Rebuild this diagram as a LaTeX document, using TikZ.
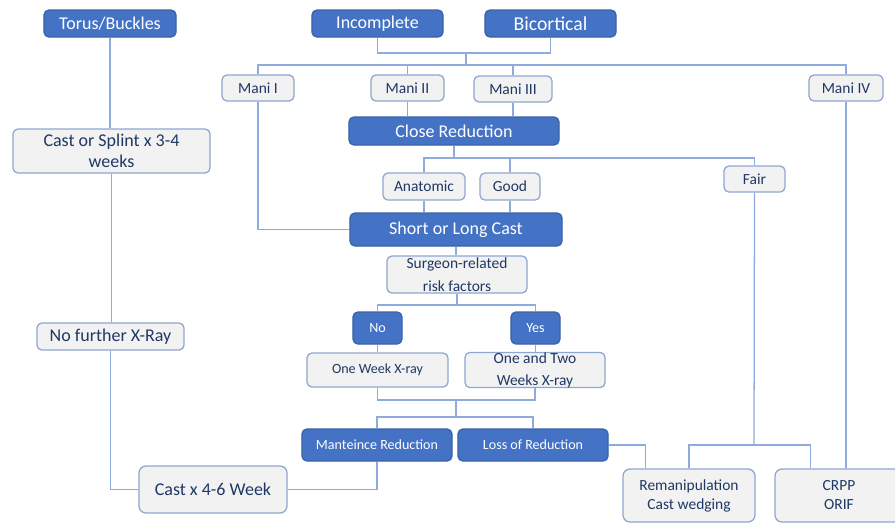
\documentclass[tikz,border=0pt]{standalone}
\usepackage{fontspec}
\setmainfont{Carlito}
\usetikzlibrary{calc}
\definecolor{boxblue}{HTML}{4472C4}
\definecolor{boxblueedge}{HTML}{3A62A8}
\definecolor{boxgrey}{HTML}{F2F2F2}
\definecolor{boxgreyedge}{HTML}{8FA6CF}
\definecolor{boxtext}{HTML}{1F3864}
\definecolor{linkblue}{HTML}{8FAADC}
\tikzset{
  fbig/.style={font=\fontsize{12.8}{15}\selectfont},
  fmid/.style={font=\fontsize{11}{13.5}\selectfont},
  fsml/.style={font=\fontsize{10}{12}\selectfont},
  stepbase/.style={rounded corners=3.5pt, line width=0.9pt, inner sep=0pt, align=center},
  darkstep/.style 2 args={stepbase, draw=boxblueedge, fill=boxblue, text=white,
    minimum width=#1, minimum height=#2},
  lightstep/.style 2 args={stepbase, draw=boxgreyedge, fill=boxgrey, text=boxtext,
    minimum width=#1, minimum height=#2},
  link/.style={draw=linkblue, line width=0.9pt},
}

\begin{document}
\begin{tikzpicture}[x=0.025cm, y=-0.025cm]
\useasboundingbox (0,0) rectangle (895,522);

% ---- top row ----
\node[darkstep={3.3cm}{0.675cm}, fbig] (torus) at (110,23.5) {Torus/Buckles};
\node[darkstep={3.275cm}{0.675cm}, fbig] (incomp) at (377.5,23.5) {Incomplete};
\node[darkstep={3.275cm}{0.675cm}, font=\fontsize{14}{16}\selectfont] (bicort) at (550.5,23.5) {Bicortical};

% ---- torus branch ----
\node[lightstep={4.925cm}{1.1cm}, font=\fontsize{12.8}{15}\selectfont] (splint) at (111.5,151) {Cast or Splint x 3-4\\weeks};
\node[lightstep={3.675cm}{0.675cm}, fbig] (nofurther) at (110.5,336.5) {No further X-Ray};
\node[lightstep={3.7cm}{1.175cm}, fbig, rounded corners=5pt] (cast46) at (213,489.5) {Cast x 4-6 Week};

% ---- Mani grades ----
\node[lightstep={1.8cm}{0.65cm}, fmid] (mani1) at (258,88) {Mani I};
\node[lightstep={1.825cm}{0.65cm}, fmid] (mani2) at (407.5,88) {Mani II};
\node[lightstep={1.95cm}{0.65cm}, fmid] (mani3) at (513,89) {Mani III};
\node[lightstep={1.85cm}{0.65cm}, fmid] (mani4) at (846,88) {Mani IV};

% ---- reduction ----
\node[darkstep={5.25cm}{0.7cm}, fbig] (closered) at (454,131) {Close Reduction};
\node[lightstep={2.05cm}{0.675cm}, fmid] (anat) at (424,186.5) {Anatomic};
\node[lightstep={1.5cm}{0.675cm}, fmid] (good) at (510,186.5) {Good};
\node[lightstep={1.525cm}{0.65cm}, fmid] (fair) at (754.5,179) {Fair};
\node[darkstep={5.3cm}{0.825cm}, fbig] (shortlong) at (456,229.5) {Short or Long Cast};
\node[lightstep={3.5cm}{0.925cm}, font=\fontsize{11}{16}\selectfont] (surgeon) at (457,274.5) {Surgeon-related\\risk factors};

% ---- follow-up ----
\node[darkstep={1.225cm}{0.8cm}, fsml] (no) at (377.5,328) {No};
\node[darkstep={1.225cm}{0.8cm}, fsml] (yes) at (535.5,328) {Yes};
\node[lightstep={3.525cm}{0.85cm}, fsml] (oneweek) at (377.5,370) {One Week X-ray};
\node[lightstep={3.5cm}{0.85cm}, font=\fontsize{11}{15.6}\selectfont] (onetwo) at (535,370) {One and Two\\Weeks X-ray};
\node[darkstep={3.75cm}{0.8cm}, fsml] (mainten) at (377,445) {Manteince Reduction};
\node[darkstep={3.75cm}{0.8cm}, fsml] (loss) at (533,445) {Loss of Reduction};

% ---- outcome ----
\node[lightstep={3.3cm}{1.325cm}, font=\fontsize{11}{13.5}\selectfont, rounded corners=5pt] (reman) at (689,495.5) {Remanipulation\\Cast wedging};
\node[lightstep={3.2cm}{1.325cm}, font=\fontsize{11}{13.5}\selectfont, rounded corners=5pt] (crpp) at (839,495.5) {CRPP\\ORIF};

% ---- junction points ----
\coordinate (j1) at (466,53);
\coordinate (j2) at (466,65);
\coordinate (j3) at (454,158);
\coordinate (j4) at (457,305);
\coordinate (j5) at (456,400);
\coordinate (j6) at (456,417);
\coordinate (j7) at (754,445);

% ---- connectors ----
\draw[link] (torus.south) -- (torus.south |- splint.north);
\draw[link] (splint.south) -- (splint.south |- nofurther.north);
\draw[link] (nofurther.south) |- (cast46.west);

\draw[link] (incomp.south) |- (j1) -| (bicort.south);
\draw[link] (j1) -- (j2);
\draw[link] (mani1.north) |- (j2) -| (mani4.north);
\draw[link] (mani2.north) -- (mani2.north |- j2);
\draw[link] (mani3.north) -- (mani3.north |- j2);

\draw[link] (mani2.south) -- (mani2.south |- closered.north);
\draw[link] (mani3.south) -- (mani3.south |- closered.north);
\draw[link] (mani1.south) |- (shortlong.west);

\draw[link] (closered.south) -- (j3);
\draw[link] (anat.north) |- (j3) -| (fair.north);
\draw[link] (good.north) -- (good.north |- j3);
\draw[link] (anat.south) -- (anat.south |- shortlong.north);
\draw[link] (good.south) -- (good.south |- shortlong.north);

\draw[link] (shortlong.south) -- (shortlong.south |- surgeon.north);
\draw[link] (surgeon.south) -- (j4);
\draw[link] (no.north) |- (j4) -| (yes.north);
\draw[link] (no.south) -- (no.south |- oneweek.north);
\draw[link] (yes.south) -- (yes.south |- onetwo.north);

\draw[link] (oneweek.south) |- (j5) -| (onetwo.south);
\draw[link] (j5) -- (j6);
\draw[link] (mainten.north) |- (j6) -| (loss.north);
\draw[link] (mainten.south) |- (cast46.east);

\draw[link] (loss.east) -| ($(reman.north west)+(23,0)$);
\draw[link] (fair.south) -- (j7);
\draw[link] (reman.north) |- (j7) -| ($(crpp.north west)+(36,0)$);
\draw[link] (mani4.south) -- (mani4.south |- crpp.north);

\end{tikzpicture}
\end{document}
